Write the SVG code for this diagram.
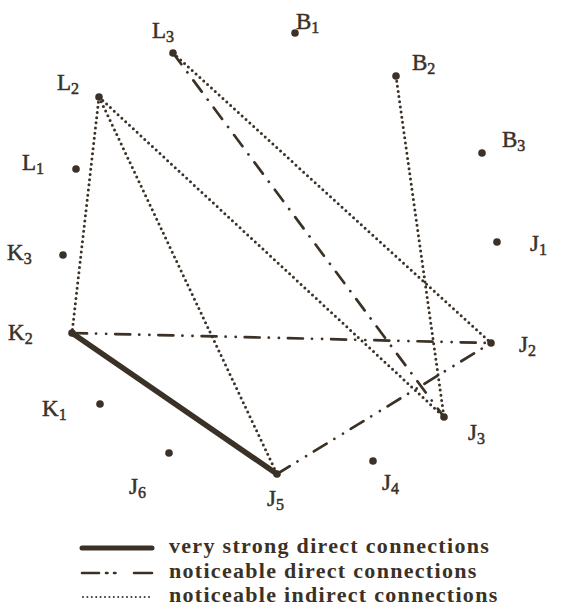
<svg xmlns="http://www.w3.org/2000/svg" width="568" height="613" viewBox="0 0 568 613">
<style>
.e{fill:none;stroke:#3b3126;stroke-linecap:round}
.dot{stroke-width:3;stroke-dasharray:0 5.2}
.dd{stroke-width:2.7;stroke-dasharray:15 9 0.1 10 0.1 9}
.da{stroke-width:2.7;stroke-dasharray:14 10 0.1 10}
.thick{stroke-width:5.5}
.n circle{fill:#3b3126}
text{font-family:"Liberation Serif","Times New Roman",serif;fill:#3b3126;font-size:23px}
.n text{stroke:#3b3126;stroke-width:0.5}
.s{font-size:16px}
.lg{font-weight:bold;font-size:22px;letter-spacing:1.3px}
</style>
<rect width="568" height="613" fill="#fff"/>
<g id="connectors">
<line class="e thick" x1="72" y1="333" x2="277" y2="474"/>
<line class="e dd" x1="72" y1="333" x2="491" y2="343"/>
<line class="e dd" x1="277" y1="474" x2="491" y2="343"/>
<line class="e da" x1="173" y1="53" x2="444" y2="417"/>
<line class="e dot" x1="173" y1="53" x2="491" y2="343"/>
<line class="e dot" x1="99" y1="97" x2="72" y2="333"/>
<line class="e dot" x1="99" y1="97" x2="277" y2="474"/>
<line class="e dot" x1="99" y1="97" x2="444" y2="417"/>
<line class="e dot" x1="396" y1="76" x2="444" y2="417"/>
</g>
<g id="L3" class="n"><circle cx="173" cy="53" r="3.8"/><text x="152" y="38">L<tspan class="s" dy="4">3</tspan></text></g>
<g id="B1" class="n"><circle cx="295" cy="33" r="3.8"/><text x="296" y="29">B<tspan class="s" dy="4">1</tspan></text></g>
<g id="B2" class="n"><circle cx="396" cy="76" r="3.8"/><text x="412" y="70">B<tspan class="s" dy="4">2</tspan></text></g>
<g id="L2" class="n"><circle cx="99" cy="97" r="3.8"/><text x="57" y="90">L<tspan class="s" dy="4">2</tspan></text></g>
<g id="B3" class="n"><circle cx="482" cy="153" r="3.8"/><text x="502" y="147">B<tspan class="s" dy="4">3</tspan></text></g>
<g id="L1" class="n"><circle cx="76" cy="169" r="3.8"/><text x="22" y="170">L<tspan class="s" dy="4">1</tspan></text></g>
<g id="J1" class="n"><circle cx="497" cy="242" r="3.8"/><text x="530" y="251">J<tspan class="s" dy="4">1</tspan></text></g>
<g id="K3" class="n"><circle cx="63" cy="255" r="3.8"/><text x="7" y="260">K<tspan class="s" dy="4">3</tspan></text></g>
<g id="K2" class="n"><circle cx="72" cy="333" r="3.8"/><text x="8" y="340">K<tspan class="s" dy="4">2</tspan></text></g>
<g id="J2" class="n"><circle cx="491" cy="343" r="3.8"/><text x="519" y="352">J<tspan class="s" dy="4">2</tspan></text></g>
<g id="K1" class="n"><circle cx="100" cy="404" r="3.8"/><text x="42" y="416">K<tspan class="s" dy="4">1</tspan></text></g>
<g id="J3" class="n"><circle cx="444" cy="417" r="3.8"/><text x="468" y="440">J<tspan class="s" dy="4">3</tspan></text></g>
<g id="J6" class="n"><circle cx="169" cy="453" r="3.8"/><text x="129" y="494">J<tspan class="s" dy="4">6</tspan></text></g>
<g id="J4" class="n"><circle cx="373" cy="461" r="3.8"/><text x="382" y="490">J<tspan class="s" dy="4">4</tspan></text></g>
<g id="J5" class="n"><circle cx="277" cy="474" r="3.8"/><text x="267" y="506">J<tspan class="s" dy="4">5</tspan></text></g>
<g id="legend">
<line class="e" stroke-width="5" stroke-linecap="butt" x1="82" y1="548" x2="152" y2="548"/>
<path class="e" stroke-width="2.6" stroke-linecap="butt" d="M82 573h17M106 573h1.5M114 573h1.5M134 573h18"/>
<line class="e" stroke-width="2" stroke-dasharray="0 4.4" x1="83" y1="597" x2="150" y2="597"/>
<text class="lg" x="169" y="553">very strong direct connections</text>
<text class="lg" x="169" y="577.5">noticeable direct connections</text>
<text class="lg" x="169" y="602">noticeable indirect connections</text>
</g>
</svg>
